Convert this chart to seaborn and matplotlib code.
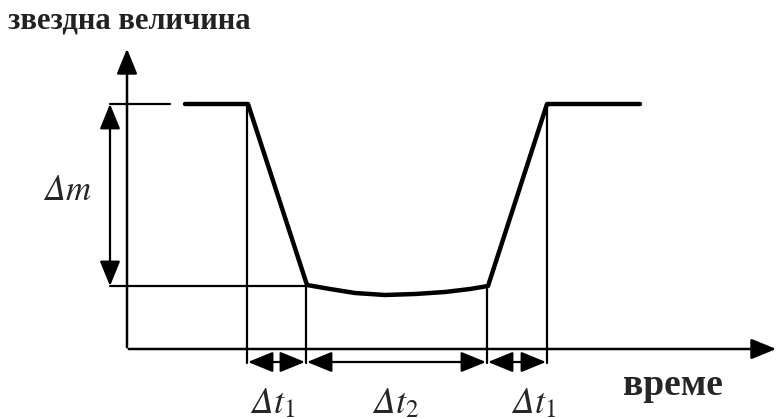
import matplotlib
matplotlib.use("Agg")
import matplotlib.pyplot as plt
import seaborn as sns
import pandas as pd

# light curve of a transit (schematic units, y grows downward = fainter)
time = [185, 248, 307, 330, 355, 385, 415, 445, 470, 488, 547, 640]
magnitude = [104, 104, 285, 289, 293, 295, 294, 292, 289, 286, 104, 104]

# contact times and levels
t_contacts = [247, 306, 487, 547]
m_top = 104
m_bottom = 285
y_label = "звездна величина"
x_label = "време"
dt_labels = [r"$Δt_\mathsf{1}$", r"$Δt_\mathsf{2}$", r"$Δt_\mathsf{1}$"]
dt_label_x = [273, 396, 534]

sns.set_theme(style="white")
# italic greek like in the original (mathtext forces capitals upright otherwise)
plt.rcParams["mathtext.fontset"] = "custom"
plt.rcParams["mathtext.rm"] = "STIXGeneral:italic"
plt.rcParams["mathtext.it"] = "STIXGeneral:italic"
plt.rcParams["mathtext.sf"] = "STIXGeneral"

fig = plt.figure(figsize=(7.8, 4.19), dpi=100)
ax = fig.add_axes([0, 0, 1, 1])

# axes with arrows
ax.annotate("", xy=(127, 46), xytext=(127, 350),
            arrowprops=dict(arrowstyle="-|>,head_length=1.1,head_width=0.45", color="black", lw=1.8, mutation_scale=14))
ax.annotate("", xy=(779, 349), xytext=(126, 349),
            arrowprops=dict(arrowstyle="-|>,head_length=1.1,head_width=0.45", color="black", lw=1.8, mutation_scale=14))

# the curve
df = pd.DataFrame({"time": time, "magnitude": magnitude})
sns.lineplot(data=df, x="time", y="magnitude", ax=ax, color="black", lw=3.2, sort=False)
ax.set_xlim(0, 780)
ax.set_ylim(419, 0)
ax.axis("off")

# reference levels
ax.plot([110, 170], [m_top, m_top], color="black", lw=1.6)
ax.plot([110, t_contacts[1]], [m_bottom + 1, m_bottom + 1], color="black", lw=1.6)

# contact verticals
for t, top in zip(t_contacts, [m_top, m_bottom, m_bottom, m_top]):
    ax.plot([t, t], [top, 363], color="black", lw=1.6)

# delta m arrow
ax.annotate("", xy=(110, m_top), xytext=(110, m_bottom + 1),
            arrowprops=dict(arrowstyle="<|-|>,head_length=1.1,head_width=0.45", color="black", lw=1.6,
                            mutation_scale=14, shrinkA=0, shrinkB=0))
ax.text(67, 190, r"$Δm$", fontsize=25, ha="center", va="center")

# delta t arrows
for a, b in zip(t_contacts[:-1], t_contacts[1:]):
    ax.annotate("", xy=(a + 1, 362), xytext=(b - 1, 362),
                arrowprops=dict(arrowstyle="<|-|>,head_length=1.1,head_width=0.45", color="black", lw=1.6,
                                mutation_scale=14, shrinkA=0, shrinkB=0))
for x, lab in zip(dt_label_x, dt_labels):
    ax.text(x, 413, lab, fontsize=26, ha="center", va="baseline")

ax.text(8, 21, y_label, fontsize=22, fontfamily="Liberation Serif", fontweight="bold",
        color="#222222", ha="left", va="center")
ax.text(673, 395, x_label, fontsize=27, fontfamily="Liberation Serif", fontweight="bold",
        ha="center", va="baseline")

fig.savefig("out.png", dpi=100)
